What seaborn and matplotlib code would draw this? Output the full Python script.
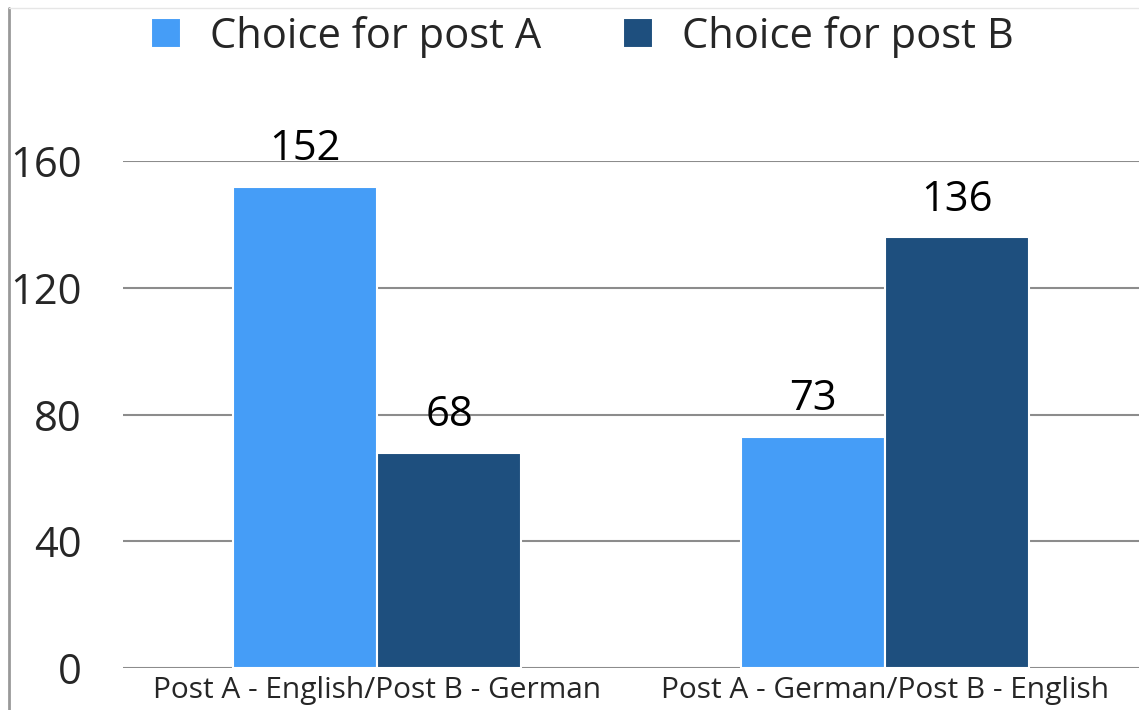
import pandas as pd
import matplotlib
matplotlib.use("Agg")
import matplotlib.pyplot as plt
import seaborn as sns
from matplotlib.lines import Line2D

conditions = ["Post A - English/Post B - German", "Post A - German/Post B - English"]
series = ["Choice for post A", "Choice for post B"]
choice_a = [152, 73]
choice_b = [68, 136]
colors = ["#459DF7", "#1E4F7E"]

df = pd.DataFrame({
    "condition": conditions * 2,
    "series": [series[0]] * 2 + [series[1]] * 2,
    "count": choice_a + choice_b,
})

sns.set_theme(style="white")
plt.rcParams["font.family"] = ["Open Sans", "DejaVu Sans"]

fig = plt.figure(figsize=(11.39, 7.10), dpi=100)
ax = fig.add_axes([0.108, 0.059, 0.892, 0.714])

sns.barplot(data=df, x="condition", y="count", hue="series", palette=colors,
            order=conditions, hue_order=series, width=0.567, saturation=1,
            edgecolor="white", linewidth=1.5, ax=ax, zorder=3)

for cont in ax.containers:
    ax.bar_label(cont, padding=12, fontsize=30, color="black", clip_on=False)

ax.set_ylim(0, 160)
ax.set_xlim(-0.5, 1.5)
ax.set_yticks([0, 40, 80, 120, 160])
ax.yaxis.grid(True, color="#8c8c8c", linewidth=1.5, zorder=0)
ax.set_axisbelow(True)
for s in ax.spines.values():
    s.set_visible(False)
ax.tick_params(axis="y", labelsize=30, pad=30, length=0)
ax.tick_params(axis="x", labelsize=21.5, pad=6, length=0)
ax.set_xlabel("")
ax.set_ylabel("")

ax.legend(loc="upper center", bbox_to_anchor=(0.511, 1.007), bbox_transform=fig.transFigure,
          ncol=2, frameon=False, fontsize=30, handlelength=0.72, handleheight=0.72,
          columnspacing=1.96, handletextpad=0.7, borderaxespad=0.1)

fig.add_artist(Line2D([0.008, 0.008], [0, 0.989], color="#999999", linewidth=2,
                      transform=fig.transFigure))
fig.add_artist(Line2D([0.008, 1.0], [0.989, 0.989], color="#e6e6e6", linewidth=1,
                      transform=fig.transFigure))

fig.savefig("out.png", dpi=100)
